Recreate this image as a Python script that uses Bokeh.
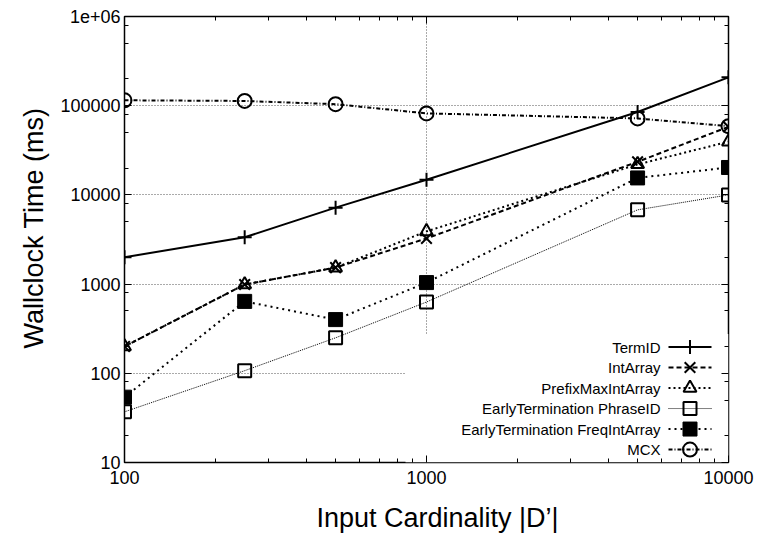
from bokeh.plotting import figure
from bokeh.models import Range1d, FixedTicker, LogAxis, Title
from bokeh.embed import file_html
from bokeh.resources import INLINE
from bokeh.core.properties import value

# ---------------- data ----------------
x_card = [100, 250, 500, 1000, 5000, 10000]
term_id = [2000, 3350, 7200, 14800, 85000, 208000]
int_array = [200, 990, 1530, 3250, 23500, 58000]
prefix_max = [200, 990, 1530, 3900, 22000, 39500]
et_phrase_id = [37, 107, 250, 630, 6800, 10000]
et_freq_int = [54, 640, 400, 1040, 15500, 20300]
mcx = [115000, 113000, 104000, 82000, 72000, 59000]

series_names = ["TermID", "IntArray", "PrefixMaxIntArray",
                "EarlyTermination PhraseID", "EarlyTermination FreqIntArray", "MCX"]

x_ticks = [100, 1000, 10000]
y_ticks = [10, 100, 1000, 10000, 100000, 1000000]
y_tick_labels = ["10", "100", "1000", "10000", "100000", "1e+06"]
x_tick_labels = ["100", "1000", "10000"]
x_title = "Input Cardinality |D\u2019|"
y_title = "Wallclock Time (ms)"

FONT = "Liberation Sans"
W, H = 760, 546
L, R, T, B = 124, 32, 16, 82

p = figure(width=W, height=H, x_axis_type="log", y_axis_type="log",
           x_range=Range1d(100, 10000), y_range=Range1d(10, 1e6),
           output_backend="svg", toolbar_location=None,
           min_border_left=L, min_border_right=R, min_border_top=T, min_border_bottom=B)
p.background_fill_color = "white"
p.border_fill_color = "white"
p.outline_line_color = "black"
p.outline_line_width = 1.5

x_minor = [m * 10 ** e for e in (2, 3) for m in range(2, 10)]
y_minor = [m * 10 ** e for e in range(1, 6) for m in (2, 5, 8)]
xt = FixedTicker(ticks=x_ticks, minor_ticks=x_minor)
yt = FixedTicker(ticks=y_ticks, minor_ticks=y_minor)


def style_axis(ax):
    ax.axis_line_color = None
    ax.major_tick_in = 7
    ax.major_tick_out = 0
    ax.minor_tick_in = 4
    ax.minor_tick_out = 0
    ax.major_tick_line_color = "black"
    ax.minor_tick_line_color = "black"
    ax.major_label_text_font = FONT
    ax.major_label_text_font_size = "18px"
    ax.major_label_text_color = "black"


p.xaxis.ticker = xt
p.yaxis.ticker = yt
p.xaxis.major_label_overrides = {float(t): s for t, s in zip(x_ticks, x_tick_labels)}
p.yaxis.major_label_overrides = {float(t): s for t, s in zip(y_ticks, y_tick_labels)}
style_axis(p.xaxis[0])
style_axis(p.yaxis[0])
p.xaxis.major_label_standoff = 8
p.yaxis.major_label_standoff = 4

top_ax = LogAxis(ticker=xt)
style_axis(top_ax)
top_ax.major_label_text_font_size = "1px"
top_ax.major_label_text_color = None
top_ax.major_label_standoff = 0
p.add_layout(top_ax, "above")
right_ax = LogAxis(ticker=yt)
style_axis(right_ax)
right_ax.major_label_text_font_size = "1px"
right_ax.major_label_text_color = None
right_ax.major_label_standoff = 0
p.add_layout(right_ax, "right")

for g in (p.xgrid[0], p.ygrid[0]):
    g.grid_line_color = "#555555"
    g.grid_line_dash = "1 2"
    g.grid_line_width = 1

# axis titles as side titles, offset like the original
p.add_layout(Title(text=x_title, align="left", offset=192, standoff=28,
                   text_font=FONT, text_font_size="27px", text_font_style="normal",
                   text_color="black"), "below")
p.add_layout(Title(text=y_title, align="left", offset=114, standoff=18,
                   text_font=FONT, text_font_size="27px", text_font_style="normal",
                   text_color="black"), "left")


# pixel -> data helpers (frame is 604 x 448 px)
def xd(px):
    return 10 ** (2 + (px - L) / (W - L - R) * 2)


def yd(py):
    return 10 ** (6 - (py - T) / (H - T - B) * 5)


# opaque key box (blanks the grid)
p.quad(left=[xd(405)], right=[10000], bottom=[10], top=[yd(335)],
       fill_color="white", line_color=None)

styles = [
    dict(dash="solid", lw=2, marker="cross", size=14, fill=None, mlw=2),
    dict(dash="5 3", lw=2, marker="x", size=15, fill=None, mlw=2),
    dict(dash="2 3", lw=2, marker="triangle", size=13, fill=None, mlw=2),
    dict(dash="1 1", lw=1, marker="square", size=13, fill=None, mlw=2),
    dict(dash="2 4", lw=2, marker="square", size=14, fill="black", mlw=1),
    dict(dash="4 2 1 2", lw=2, marker="circle", size=14, fill=None, mlw=2),
]
data = [term_id, int_array, prefix_max, et_phrase_id, et_freq_int, mcx]

for ys, st in zip(data, styles):
    p.line(x_card, ys, line_color="black", line_width=st["lw"], line_dash=st["dash"])
    p.scatter(x_card, ys, marker=st["marker"], size=st["size"], line_color="black",
              line_width=st["mlw"], fill_color=st["fill"] if st["fill"] else None)

# key entries
for i, (name, st) in enumerate(zip(series_names, styles)):
    py = 348 + i * 20.6
    yy = yd(py)
    p.text(x=[xd(660)], y=[yy], text=[name], text_align="right", text_baseline="middle",
           text_font=value(FONT), text_font_size="15px", text_color="black")
    p.line([xd(668), xd(711)], [yy, yy], line_color="black", line_width=st["lw"],
           line_dash=st["dash"])
    p.scatter([xd(689.5)], [yy], marker=st["marker"], size=st["size"], line_color="black",
              line_width=st["mlw"], fill_color=st["fill"] if st["fill"] else None)

open("out.html", "w").write(file_html(p, INLINE))
